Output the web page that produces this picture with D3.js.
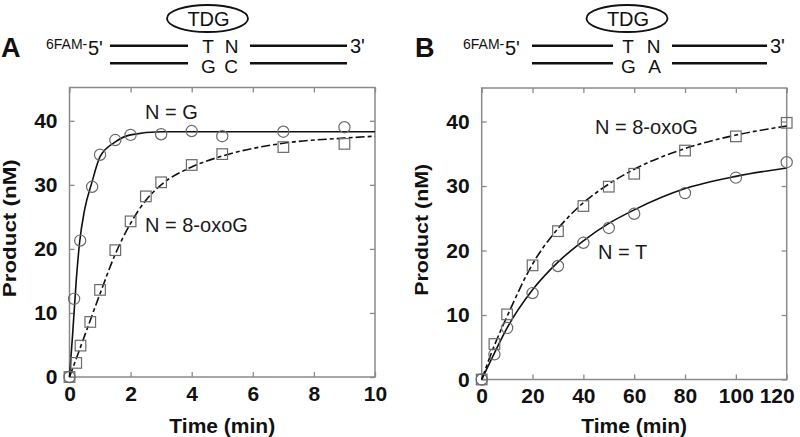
<!DOCTYPE html>
<html>
<head>
<meta charset="utf-8">
<script src="https://cdn.jsdelivr.net/npm/d3@7"></script>
<style>
  html, body { margin: 0; padding: 0; background: #fff; }
  svg { display: block; font-family: "Liberation Sans", Arial, Helvetica, sans-serif; }
</style>
</head>
<body>
<script>
(function () {
  'use strict';

  // ---- panel A : T:N over G:C, time in min ----
  var xTicksA = [0, 2, 4, 6, 8, 10];
  var yTicks = [0, 10, 20, 30, 40];

  // N = G (circles)
  var timeA_G = [0, 0.15, 0.35, 0.74, 1, 1.5, 2, 3, 4, 5, 7, 9];
  var prodA_G = [0, 12.2, 21.3, 29.7, 34.7, 37.0, 37.8, 37.9, 38.4, 37.6, 38.3, 39.0];
  // N = 8-oxoG (squares)
  var timeA_O = [0, 0.22, 0.36, 0.68, 1, 1.5, 2, 2.5, 3, 4, 5, 7, 9];
  var prodA_O = [0, 2.2, 4.9, 8.6, 13.6, 19.8, 24.3, 28.2, 30.4, 33.1, 34.8, 35.9, 36.4];

  // fitted curves
  var fitTimeA_G = [0, 0.1, 0.22, 0.33, 0.49, 0.74, 1, 1.5, 2, 3, 10];
  var fitProdA_G = [0, 6.5, 15, 21, 26, 30.5, 34.4, 36.7, 37.8, 38.3, 38.3];
  var fitTimeA_O = [0, 0.5, 1, 1.5, 2, 2.5, 3, 4, 5, 7, 9, 10];
  var fitProdA_O = [0, 6.5, 13, 19.2, 24, 27.6, 30, 32.8, 34.5, 36.5, 37.3, 37.6];

  // ---- panel B : T:N over G:A, time in min ----
  var xTicksB = [0, 20, 40, 60, 80, 100, 120];
  var timeB = [0, 5, 10, 20, 30, 40, 50, 60, 80, 100, 120];
  // N = 8-oxoG (squares)
  var prodB_O = [0, 5.5, 10.1, 17.7, 23.0, 26.9, 29.9, 31.9, 35.5, 37.7, 39.8];
  // N = T (circles)
  var prodB_T = [0, 3.9, 8.0, 13.4, 17.6, 21.2, 23.5, 25.7, 28.9, 31.3, 33.7];

  var fitTimeB = [0, 5, 10, 20, 30, 40, 50, 60, 80, 100, 120];
  var fitProdB_O = [0, 5.3, 9.8, 17.9, 23.4, 27.4, 30.3, 32.6, 35.8, 37.9, 39.3];
  var fitProdB_T = [0, 4.1, 8.0, 13.9, 18.2, 21.5, 24.2, 26.3, 29.6, 31.5, 32.8];

  var labelsA = ['N = G', 'N = 8-oxoG'];
  var labelsB = ['N = 8-oxoG', 'N = T'];

  var frameColor = '#8a8a8a',
      markColor = '#6a6a6a',
      dashDot = '9,3,4,3';

  var svg = d3.select('body').append('svg')
    .attr('width', 800)
    .attr('height', 437);

  function zip(xs, ys) {
    return xs.map(function (d, i) { return [d, ys[i]]; });
  }

  /**
   * Draws one kinetics panel.
   */
  function drawPanel(cfg) {
    var x = d3.scaleLinear().domain(cfg.xDomain).range([cfg.left, cfg.right]),
        y = d3.scaleLinear().domain([0, 45.2]).range([cfg.bottom, cfg.top]),
        g = svg.append('g');

    g.append('rect')
      .attr('x', cfg.left)
      .attr('y', cfg.top)
      .attr('width', cfg.right - cfg.left)
      .attr('height', cfg.bottom - cfg.top)
      .attr('fill', 'none')
      .attr('stroke', frameColor)
      .attr('stroke-width', 1.5);

    function styleAxis(sel) {
      sel.select('.domain').remove();
      sel.selectAll('.tick line').attr('stroke', frameColor).attr('stroke-width', 1.3);
      sel.selectAll('.tick text')
        .attr('fill', '#111')
        .style('font-size', '21px')
        .style('font-weight', 'bold')
        .style('font-family', '"Liberation Sans", Arial, sans-serif');
    }

    g.append('g')
      .attr('transform', 'translate(0,' + cfg.bottom + ')')
      .call(d3.axisBottom(x).tickValues(cfg.xTicks).tickSize(-5).tickPadding(9).tickFormat(d3.format('d')))
      .call(styleAxis);

    g.append('g')
      .attr('transform', 'translate(0,' + cfg.top + ')')
      .call(d3.axisTop(x).tickValues(cfg.xTicks).tickSize(-5).tickFormat(''))
      .call(styleAxis);

    g.append('g')
      .attr('transform', 'translate(' + cfg.left + ',0)')
      .call(d3.axisLeft(y).tickValues(yTicks).tickSize(-5).tickPadding(12).tickFormat(d3.format('d')))
      .call(styleAxis);

    g.append('g')
      .attr('transform', 'translate(' + cfg.right + ',0)')
      .call(d3.axisRight(y).tickValues(yTicks).tickSize(-5).tickFormat(''))
      .call(styleAxis);

    if (cfg.lastTickShift) {
      g.selectAll('.tick text').filter(function (d) { return d === cfg.xTicks[cfg.xTicks.length - 1]; })
        .attr('dx', cfg.lastTickShift);
    }

    // axis titles
    g.append('text')
      .attr('x', (cfg.left + cfg.right) / 2)
      .attr('y', 433)
      .attr('text-anchor', 'middle')
      .attr('font-size', 21)
      .attr('font-weight', 'bold')
      .attr('fill', '#111')
      .text('Time (min)');

    g.append('text')
      .attr('transform', 'translate(' + cfg.yTitleX + ',' + ((cfg.top + cfg.bottom) / 2 - 4) + ') rotate(-90)')
      .attr('text-anchor', 'middle')
      .attr('font-size', 19)
      .attr('font-weight', 'bold')
      .attr('textLength', cfg.yTitleLen)
      .attr('lengthAdjust', 'spacingAndGlyphs')
      .attr('fill', '#111')
      .text('Product (nM)');

    var line = d3.line()
      .x(function (d) { return x(d[0]); })
      .y(function (d) { return y(d[1]); })
      .curve(d3.curveMonotoneX);

    cfg.fits.forEach(function (f) {
      g.append('path')
        .datum(f.data)
        .attr('d', line)
        .attr('fill', 'none')
        .attr('stroke', '#111')
        .attr('stroke-width', 1.6)
        .attr('stroke-dasharray', f.dashed ? dashDot : null);
    });

    cfg.series.forEach(function (s) {
      var pts = g.append('g').selectAll('.pt')
        .data(s.data)
        .enter();
      if (s.shape === 'circle') {
        pts.append('circle')
          .attr('cx', function (d) { return x(d[0]); })
          .attr('cy', function (d) { return y(d[1]); })
          .attr('r', 5.6)
          .attr('fill', 'none')
          .attr('stroke', markColor)
          .attr('stroke-width', 1.2);
      } else {
        pts.append('rect')
          .attr('x', function (d) { return x(d[0]) - 5.3; })
          .attr('y', function (d) { return y(d[1]) - 5.3; })
          .attr('width', 10.6)
          .attr('height', 10.6)
          .attr('fill', 'none')
          .attr('stroke', markColor)
          .attr('stroke-width', 1.2);
      }
    });

    cfg.labels.forEach(function (l) {
      g.append('text')
        .attr('x', l.x)
        .attr('y', l.y)
        .attr('font-size', 20)
        .attr('fill', '#1a1a1a')
        .text(l.text);
    });
  }

  /**
   * Draws the duplex / TDG sketch above a panel.
   */
  function drawDuplex(d) {
    var g = svg.append('g').attr('fill', '#111');

    g.append('text').attr('x', d.letterX).attr('y', 57)
      .attr('font-size', 27).attr('font-weight', 'bold').text(d.letter);
    g.append('text').attr('x', d.famX).attr('y', 48.5)
      .attr('font-size', 14).text('6FAM-');
    g.append('text').attr('x', d.famX + 42).attr('y', 55)
      .attr('font-size', 20).text("5'");
    g.append('text').attr('x', d.r1 + 3).attr('y', 53)
      .attr('font-size', 20).text("3'");

    [45.7, 63.3].forEach(function (yy) {
      [[d.l0, d.l1], [d.r0, d.r1]].forEach(function (seg) {
        g.append('line')
          .attr('x1', seg[0]).attr('x2', seg[1])
          .attr('y1', yy).attr('y2', yy)
          .attr('stroke', '#111').attr('stroke-width', 2.4);
      });
    });

    d.bases.forEach(function (b) {
      g.append('text').attr('x', b.x).attr('y', b.y)
        .attr('text-anchor', 'middle').attr('font-size', 19).text(b.t);
    });

    g.append('ellipse')
      .attr('cx', d.ex).attr('cy', 18.5)
      .attr('rx', 40.5).attr('ry', 13.5)
      .attr('fill', 'none').attr('stroke', '#111').attr('stroke-width', 1.8);
    g.append('text').attr('x', d.ex + 1).attr('y', 25.5)
      .attr('text-anchor', 'middle').attr('font-size', 20).text('TDG');
  }

  drawDuplex({
    letter: 'A', letterX: 1, famX: 46, l0: 110, l1: 188, r0: 250, r1: 347, ex: 207.5,
    bases: [{t: 'T', x: 208, y: 52.5}, {t: 'N', x: 231.5, y: 52.5},
            {t: 'G', x: 208.5, y: 72.5}, {t: 'C', x: 231, y: 72.5}]
  });
  drawDuplex({
    letter: 'B', letterX: 415, famX: 463, l0: 532, l1: 613, r0: 672, r1: 767, ex: 627,
    bases: [{t: 'T', x: 628, y: 52.5}, {t: 'N', x: 653.5, y: 52.5},
            {t: 'G', x: 628.5, y: 72.5}, {t: 'A', x: 654.5, y: 72.5}]
  });

  drawPanel({
    left: 69.5, right: 375, top: 87.5, bottom: 377,
    xDomain: [0, 10], xTicks: xTicksA, yTitleX: 16, yTitleLen: 138,
    fits: [
      {data: zip(fitTimeA_G, fitProdA_G), dashed: false},
      {data: zip(fitTimeA_O, fitProdA_O), dashed: true}
    ],
    series: [
      {data: zip(timeA_G, prodA_G), shape: 'circle'},
      {data: zip(timeA_O, prodA_O), shape: 'square'}
    ],
    labels: [
      {text: labelsA[0], x: 145, y: 118.5},
      {text: labelsA[1], x: 145, y: 231.5}
    ]
  });

  drawPanel({
    left: 481.7, right: 786.7, top: 88, bottom: 379.5,
    xDomain: [0, 120], xTicks: xTicksB, yTitleX: 428, yTitleLen: 132, lastTickShift: -10,
    fits: [
      {data: zip(fitTimeB, fitProdB_T), dashed: false},
      {data: zip(fitTimeB, fitProdB_O), dashed: true}
    ],
    series: [
      {data: zip(timeB, prodB_T), shape: 'circle'},
      {data: zip(timeB, prodB_O), shape: 'square'}
    ],
    labels: [
      {text: labelsB[0], x: 595, y: 133.5},
      {text: labelsB[1], x: 598, y: 258.5}
    ]
  });
})();
</script>
</body>
</html>
